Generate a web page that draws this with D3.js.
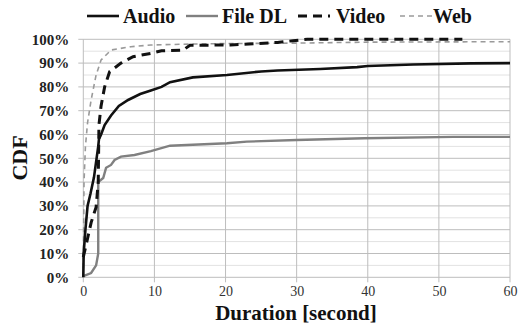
<!DOCTYPE html>
<html>
<head>
<meta charset="utf-8">
<script src="https://cdn.jsdelivr.net/npm/d3@7"></script>
<style>
  body { margin: 0; background: #fff; }
  svg text { font-family: "Liberation Serif", "Times New Roman", serif !important; }
</style>
</head>
<body>
<script>
// [duration (s), CDF %]
const audio = [[0,0],[0.05,10],[0.3,20],[0.6,30],[1.0,35],[1.5,42],[2.1,55],[2.2,58],[2.5,60],[3.0,64],[3.9,68],[5,72],[6.3,74.5],[8,77],[9.5,78.5],[11,80],[12.2,82],[15.4,84],[20.2,85],[25,86.5],[27.3,86.9],[33.3,87.5],[38.5,88.3],[40,88.8],[46.4,89.4],[54.5,89.9],[60,90]];
const fileDL = [[0,0.5],[1.1,1.8],[1.8,5],[2.1,10],[2.1,40],[2.8,41.7],[3.2,46],[3.9,47.2],[4.4,49.3],[5.3,50.7],[7.2,51.4],[9.5,53],[12.2,55.3],[20.2,56.3],[23,57],[30,57.7],[39.5,58.4],[52,59],[60,59]];
const video = [[0,8.5],[0.5,15],[1.1,23],[1.8,29.5],[2.1,40],[2.2,64],[2.5,72],[3.0,80],[3.7,86.4],[5.3,90],[7,92.7],[9.5,94.1],[11,95.2],[14,95.4],[15,97.5],[20.7,97.6],[27.3,98.7],[29.5,99.4],[31.5,100],[53.3,100]];
const web = [[0,0],[0.05,20],[0.1,40],[0.3,55],[0.6,65],[1.1,74.5],[1.8,85],[2.5,91.3],[3.9,95.5],[6.7,96.9],[9.5,97.6],[15,98],[20,98.2],[30,98.4],[40,98.8],[60,99]];

const seriesNames = ["Audio", "File DL", "Video", "Web"];
const xTicks = [0, 10, 20, 30, 40, 50, 60];
const yTicks = d3.range(0, 101, 10);

const w = 518, h = 324;
const serif = '"Liberation Serif", "Times New Roman", serif';
const svg = d3.select("body").append("svg").attr("width", w).attr("height", h);

const x = d3.scaleLinear().domain([0, 60]).range([83.3, 510]);
const y = d3.scaleLinear().domain([0, 100]).range([277.3, 39.3]);

// minor gridlines every 5%
svg.append("g").selectAll("line")
  .data(d3.range(5, 100, 10))
  .enter().append("line")
  .attr("x1", x(0)).attr("x2", x(60))
  .attr("y1", d => y(d)).attr("y2", d => y(d))
  .attr("stroke", "#e2e2e2").attr("stroke-width", 1);

// major gridlines
svg.append("g").selectAll("line")
  .data(yTicks)
  .enter().append("line")
  .attr("x1", x(0) - 5).attr("x2", x(60))
  .attr("y1", d => y(d)).attr("y2", d => y(d))
  .attr("stroke", "#bdbdbd").attr("stroke-width", 1);

svg.append("g").selectAll("line")
  .data(xTicks)
  .enter().append("line")
  .attr("x1", d => x(d)).attr("x2", d => x(d))
  .attr("y1", y(100)).attr("y2", y(0) + 5)
  .attr("stroke", "#bdbdbd").attr("stroke-width", 1);

// axes labels
const yAxis = svg.append("g")
  .attr("transform", `translate(${x(0)},0)`)
  .call(d3.axisLeft(y).tickValues(yTicks).tickFormat(d => d + "%").tickSize(0).tickPadding(14))
  .attr("font-family", serif);
yAxis.select(".domain").remove();
yAxis.selectAll("text").attr("font-size", 15).attr("font-weight", "bold").attr("fill", "#222");

const xAxis = svg.append("g")
  .attr("transform", `translate(0,${y(0)})`)
  .call(d3.axisBottom(x).tickValues(xTicks).tickSize(0).tickPadding(9))
  .attr("font-family", serif);
xAxis.select(".domain").remove();
xAxis.selectAll("text").attr("font-size", 14).attr("fill", "#333");

const line = d3.line().x(d => x(d[0])).y(d => y(d[1]));

const styles = [
  { data: fileDL, stroke: "#808080", width: 2.4, dash: null },
  { data: web, stroke: "#9a9a9a", width: 1.6, dash: "5,4" },
  { data: audio, stroke: "#111", width: 2.6, dash: null },
  { data: video, stroke: "#111", width: 3, dash: "9,6" }
];
styles.forEach(s => {
  svg.append("path").datum(s.data)
    .attr("d", line)
    .attr("fill", "none")
    .attr("stroke", s.stroke)
    .attr("stroke-width", s.width)
    .attr("stroke-dasharray", s.dash);
});

// legend
const legendStyle = {
  "Audio": { stroke: "#111", width: 2.6, dash: null, lx: 87, tx: 123 },
  "File DL": { stroke: "#808080", width: 2.4, dash: null, lx: 186, tx: 222 },
  "Video": { stroke: "#111", width: 3, dash: "9,6", lx: 298, tx: 336 },
  "Web": { stroke: "#9a9a9a", width: 1.6, dash: "5,4", lx: 400, tx: 433 }
};
const legend = svg.append("g").attr("font-family", serif);
seriesNames.forEach(n => {
  const s = legendStyle[n];
  legend.append("line")
    .attr("x1", s.lx).attr("x2", s.lx + 32)
    .attr("y1", 16).attr("y2", 16)
    .attr("stroke", s.stroke).attr("stroke-width", s.width)
    .attr("stroke-dasharray", s.dash);
  legend.append("text")
    .attr("x", s.tx).attr("y", 23)
    .attr("font-size", 20).attr("font-weight", "bold").attr("fill", "#111")
    .text(n);
});

svg.append("text")
  .attr("transform", "translate(27,158) rotate(-90)")
  .attr("text-anchor", "middle")
  .attr("font-family", serif)
  .attr("font-size", 22).attr("font-weight", "bold").attr("fill", "#111")
  .text("CDF");

svg.append("text")
  .attr("x", 296).attr("y", 320)
  .attr("text-anchor", "middle")
  .attr("font-family", serif)
  .attr("font-size", 21).attr("font-weight", "bold").attr("fill", "#111")
  .text("Duration [second]");
</script>
</body>
</html>
